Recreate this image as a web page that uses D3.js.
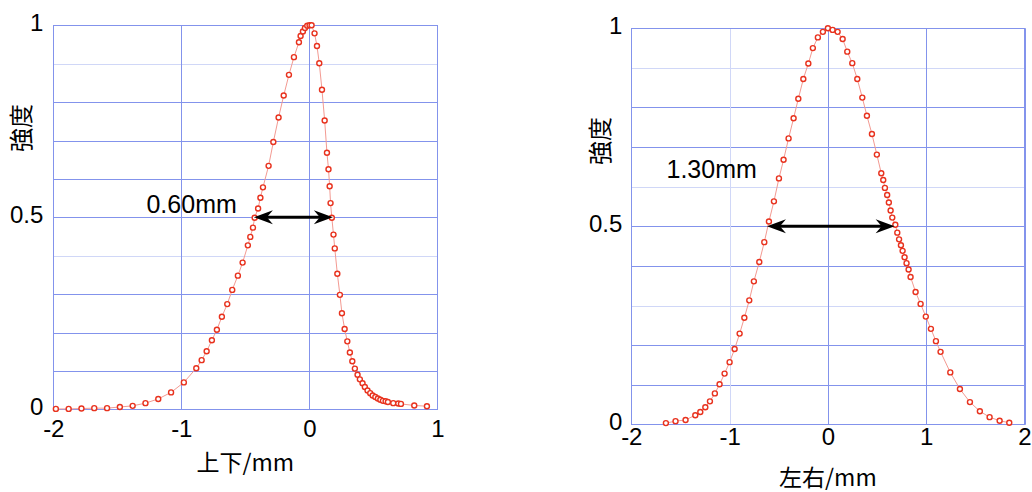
<!DOCTYPE html>
<html><head><meta charset="utf-8">
<script src="https://cdn.jsdelivr.net/npm/d3@7"></script>
<style>body{margin:0;background:#fff}</style>
</head><body>
<svg id="c" width="1032" height="492"></svg>
<script>
// ---------- data ----------
const leftX = [-1.98,-1.88,-1.78,-1.68,-1.58,-1.48,-1.38,-1.28,-1.18,-1.08,-0.98,-0.883,-0.841,-0.802,-0.761,-0.722,-0.683,-0.641,-0.602,-0.558,-0.521,-0.48,-0.461,-0.44,-0.427,-0.40,-0.382,-0.362,-0.318,-0.281,-0.24,-0.20,-0.159,-0.12,-0.081,-0.068,-0.05,-0.034,-0.016,0.002,0.018,0.041,0.06,0.078,0.099,0.12,0.138,0.150,0.159,0.166,0.176,0.189,0.199,0.219,0.239,0.255,0.276,0.297,0.317,0.336,0.356,0.377,0.395,0.416,0.434,0.455,0.476,0.495,0.516,0.536,0.555,0.575,0.596,0.614,0.656,0.695,0.716,0.82,0.919];
const leftY = [0.001,0.001,0.002,0.003,0.003,0.006,0.009,0.016,0.027,0.044,0.070,0.107,0.128,0.151,0.180,0.207,0.241,0.274,0.311,0.348,0.382,0.427,0.449,0.473,0.499,0.523,0.551,0.578,0.634,0.696,0.760,0.817,0.871,0.917,0.956,0.972,0.984,0.993,0.999,1.0,1.0,0.979,0.946,0.901,0.832,0.752,0.668,0.625,0.581,0.537,0.499,0.455,0.419,0.353,0.298,0.250,0.209,0.177,0.148,0.125,0.106,0.090,0.078,0.068,0.058,0.049,0.042,0.036,0.032,0.028,0.025,0.022,0.021,0.019,0.016,0.015,0.014,0.010,0.008];
const rightX = [-1.648,-1.55,-1.448,-1.349,-1.298,-1.247,-1.20,-1.15,-1.102,-1.051,-1.0,-0.949,-0.898,-0.85,-0.80,-0.753,-0.698,-0.647,-0.60,-0.549,-0.498,-0.451,-0.40,-0.349,-0.301,-0.25,-0.199,-0.153,-0.102,-0.051,0,0.048,0.099,0.150,0.197,0.248,0.299,0.35,0.397,0.448,0.498,0.543,0.563,0.58,0.603,0.62,0.638,0.655,0.686,0.706,0.724,0.743,0.76,0.78,0.80,0.821,0.841,0.892,0.943,0.996,1.048,1.099,1.146,1.245,1.343,1.445,1.546,1.645,1.747,1.845];
const rightY = [0.003,0.008,0.011,0.023,0.031,0.043,0.058,0.078,0.101,0.128,0.157,0.190,0.229,0.269,0.313,0.361,0.410,0.460,0.512,0.563,0.621,0.668,0.722,0.773,0.822,0.872,0.911,0.950,0.977,0.991,1.0,0.996,0.991,0.973,0.941,0.912,0.872,0.825,0.779,0.733,0.681,0.634,0.617,0.597,0.579,0.560,0.540,0.522,0.504,0.484,0.467,0.452,0.438,0.422,0.407,0.391,0.372,0.334,0.304,0.272,0.241,0.210,0.183,0.131,0.089,0.056,0.033,0.018,0.009,0.004];
const leftXTicks = [-2,-1,0,1];
const rightXTicks = [-2,-1,0,1,2];
const leftXTickLabels = ["-2","-1","0","1"];
const rightXTickLabels = ["-2","-1","0","1","2"];
const yTicks = [0,0.5,1];
const yTickLabels = ["0","0.5","1"];
const gridLevels = [0,0.1,0.2,0.3,0.4,0.5,0.6,0.7,0.8,0.9,1];
const leftFwhm = [-0.433,0.184];
const rightFwhm = [-0.62,0.679];
const fwhmLevel = 0.5;
const leftFwhmLabel = "0.60mm";
const rightFwhmLabel = "1.30mm";
const leftXLabel = "上下/mm";
const rightXLabel = "左右/mm";
const yLabel = "強度";

// ---------- drawing ----------
const svg = d3.select("#c");
const GRID = "#8393ec", FAINT = "#d0d7f7";
const LATIN = "'Liberation Sans', Arial, sans-serif";
const CJK = "'Noto Sans CJK JP', sans-serif";
const snap = v => Math.round(v) + 0.5;

function panel(cfg){
  const g = svg.append("g");
  const x = d3.scaleLinear().domain(cfg.xDomain).range([cfg.left, cfg.right]);
  const y = d3.scaleLinear().domain([0,1]).range([cfg.bottom, cfg.top]);

  // horizontal grid
  g.append("g").selectAll("line").data(gridLevels).join("line")
    .attr("x1", snap(cfg.left)).attr("x2", snap(cfg.right))
    .attr("y1", d => snap(y(d))).attr("y2", d => snap(y(d)))
    .attr("stroke", d => cfg.faintH.includes(d) ? FAINT : GRID)
    .attr("stroke-width", 1);
  // vertical grid
  g.append("g").selectAll("line").data(cfg.xTicks).join("line")
    .attr("x1", d => snap(x(d))).attr("x2", d => snap(x(d)))
    .attr("y1", snap(cfg.top)).attr("y2", snap(cfg.bottom))
    .attr("stroke", d => cfg.faintV.includes(d) ? FAINT : GRID)
    .attr("stroke-width", 1);
  g.append("rect").attr("x", snap(cfg.left)).attr("y", snap(cfg.top))
    .attr("width", Math.round(cfg.right - cfg.left)).attr("height", Math.round(cfg.bottom - cfg.top))
    .attr("fill", "none").attr("stroke", GRID).attr("stroke-width", 1);

  // axes (labels only)
  const ax = g.append("g").attr("transform", `translate(0,${cfg.bottom})`)
    .call(d3.axisBottom(x).tickValues(cfg.xTicks).tickSize(0).tickPadding(cfg.xPad)
      .tickFormat((d,i) => cfg.xTickLabels[i]));
  ax.select(".domain").remove();
  ax.selectAll(".tick line").remove();
  ax.selectAll("text").attr("font-family", LATIN).attr("font-size", 24).attr("fill", "#000");
  const ay = g.append("g").attr("transform", `translate(${cfg.left},0)`)
    .call(d3.axisLeft(y).tickValues(yTicks).tickSize(0).tickPadding(cfg.yPad).tickFormat((d,i) => yTickLabels[i]));
  ay.select(".domain").remove();
  ay.selectAll(".tick line").remove();
  ay.selectAll("text").attr("font-family", LATIN).attr("font-size", 24).attr("fill", "#000").attr("dy", "0.22em");

  // curve
  const pts = cfg.xs.map((v,i) => [v, cfg.ys[i]]);
  g.append("path").datum(pts)
    .attr("d", d3.line().x(d => x(d[0])).y(d => y(d[1])))
    .attr("fill", "none").attr("stroke", "#f39a92").attr("stroke-width", 1);
  g.append("g").selectAll("circle").data(pts).join("circle")
    .attr("cx", d => x(d[0])).attr("cy", d => y(d[1])).attr("r", 2.5)
    .attr("fill", "#fff").attr("stroke", "#e8321e").attr("stroke-width", 1.4);

  // FWHM arrow
  const ay0 = y(fwhmLevel), xa = x(cfg.fwhm[0]), xb = x(cfg.fwhm[1]);
  const L = 19, W = 7, N = 6;
  g.append("line").attr("x1", xa + 8).attr("x2", xb - 8).attr("y1", ay0).attr("y2", ay0)
    .attr("stroke", "#000").attr("stroke-width", 3);
  [[xa, 1],[xb, -1]].forEach(([tx, dir]) => {
    g.append("path")
      .attr("d", `M${tx},${ay0} L${tx + dir*L},${ay0 - W} L${tx + dir*(L-N)},${ay0} L${tx + dir*L},${ay0 + W} Z`)
      .attr("fill", "#000");
  });
  g.append("text").attr("x", x(cfg.labelPos[0])).attr("y", y(cfg.labelPos[1]))
    .attr("font-family", LATIN).attr("font-size", 25).text(cfg.fwhmLabel);

  // axis titles
  g.append("text").attr("x", (cfg.left + cfg.right)/2).attr("y", cfg.xTitleY)
    .attr("text-anchor", "middle").attr("font-family", CJK).attr("font-size", 23)
    .text(cfg.xLabel);
  g.append("text").attr("transform", `translate(${cfg.yTitleX},${cfg.yTitleY}) rotate(-90)`)
    .attr("text-anchor", "middle").attr("font-family", CJK).attr("font-size", 24)
    .attr("dy", "0.35em").text(yLabel);
}

panel({xDomain:[-2,1], left:53.3, right:437.3, top:25.3, bottom:409.3,
  xTicks:leftXTicks, xTickLabels:leftXTickLabels, xs:leftX, ys:leftY, fwhm:leftFwhm, fwhmLabel:leftFwhmLabel,
  labelPos:[-1.272, 0.511], xLabel:leftXLabel, xTitleY:471, yTitleX:21.5, yTitleY:128,
  xPad:11, yPad:10, faintH:[0.9,0.4], faintV:[]});
panel({xDomain:[-2,2], left:631.3, right:1024.5, top:28.3, bottom:424.3,
  xTicks:rightXTicks, xTickLabels:rightXTickLabels, xs:rightX, ys:rightY, fwhm:rightFwhm, fwhmLabel:rightFwhmLabel,
  labelPos:[-1.642, 0.622], xLabel:rightXLabel, xTitleY:486, yTitleX:600.5, yTitleY:141,
  xPad:4, yPad:9, faintH:[0.9,0.6,0.3], faintV:[-1]});
</script>
</body></html>
